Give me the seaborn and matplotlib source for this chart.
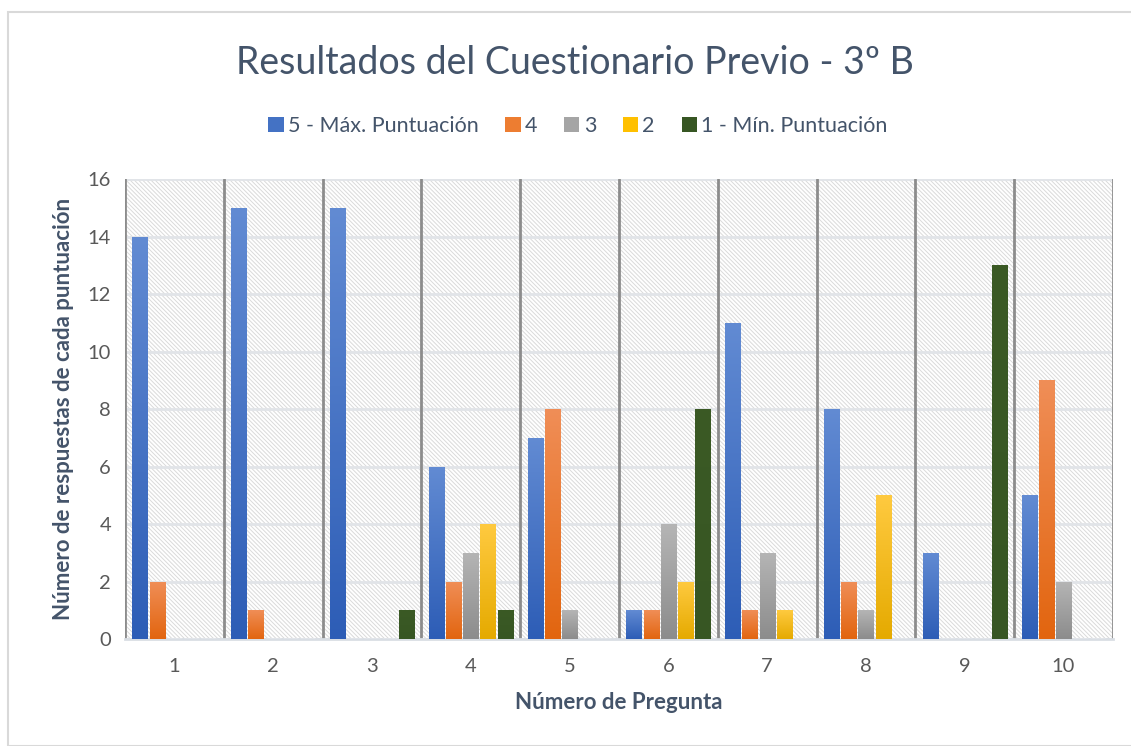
import numpy as np
import pandas as pd
import matplotlib
matplotlib.use("Agg")
import matplotlib.pyplot as plt
import matplotlib.colors as mcolors
from matplotlib.patches import Rectangle, Patch
import seaborn as sns

preguntas = ["1", "2", "3", "4", "5", "6", "7", "8", "9", "10"]
series = ["5 - Máx. Puntuación", "4", "3", "2", "1 - Mín. Puntuación"]
p5 = [14, 15, 15, 6, 7, 1, 11, 8, 3, 5]
p4 = [2, 1, 0, 2, 8, 1, 1, 2, 0, 9]
p3 = [0, 0, 0, 3, 1, 4, 3, 1, 0, 2]
p2 = [0, 0, 0, 4, 0, 2, 1, 5, 0, 0]
p1 = [0, 0, 1, 1, 0, 8, 0, 0, 13, 0]
yticks = [0, 2, 4, 6, 8, 10, 12, 14, 16]

colors = ["#4472C4", "#ED7D31", "#A5A5A5", "#FFC000", "#375623"]
grad_top = ["#628BD3", "#F08E57", "#B5B5B5", "#FFCA40", "#3B5A25"]
grad_bot = ["#2D5DB6", "#E2650F", "#8C8C8C", "#E5AA00", "#375623"]

rows = []
for s, vals in zip(series, [p5, p4, p3, p2, p1]):
    for q, v in zip(preguntas, vals):
        rows.append({"Pregunta": q, "Serie": s, "Valor": v})
df = pd.DataFrame(rows)

sns.set_theme(style="white")
plt.rcParams['font.family'] = ['Lato', 'DejaVu Sans']
plt.rcParams['hatch.linewidth'] = 0.7

fig = plt.figure(figsize=(11.31, 7.46), dpi=100)
ax = fig.add_axes([0.1105, 0.1434, 0.8735, 0.6166])

palette = dict(zip(series, colors))
sns.barplot(data=df, x="Pregunta", y="Valor", hue="Serie", hue_order=series,
            order=preguntas, palette=palette, width=0.87, gap=0.12,
            saturation=1, ax=ax, legend=True, zorder=3)

n = len(preguntas)
ax.set_xlim(-0.5, n - 0.5)
ax.set_ylim(yticks[0], yticks[-1])
bars = [p for p in ax.patches if isinstance(p, Rectangle)][: n * len(series)]
for i, p in enumerate(bars):
    si = i // n
    h = p.get_height()
    if h <= 0:
        continue
    cmap = mcolors.LinearSegmentedColormap.from_list("g", [grad_bot[si], grad_top[si]])
    grad = np.linspace(0, 1, 256).reshape(-1, 1)
    x0 = p.get_x(); w = p.get_width()
    im = ax.imshow(grad, cmap=cmap, origin="lower", aspect="auto",
                   extent=[x0, x0 + w, 0, h], zorder=3.5)
    im.set_clip_path(p)
    p.set_edgecolor("none")
ax.set_xlim(-0.5, n - 0.5)
ax.set_ylim(yticks[0], yticks[-1])

# hatched background
bg = Rectangle((0, 0), 1, 1, transform=ax.transAxes, facecolor="white",
               edgecolor="#DADADA", hatch="\\" * 8, linewidth=0, zorder=0.1)
ax.add_patch(bg)
ax.set_facecolor("white")

ax.set_yticks(yticks)
ax.yaxis.grid(True, color="#E1E4E8", linewidth=2)
ax.set_axisbelow(True)
for k in range(n + 1):
    ax.axvline(k - 0.5, color="#8C8C8C", linewidth=2, zorder=2)
for s in ["top", "right", "left"]:
    ax.spines[s].set_visible(False)
ax.spines["bottom"].set_color("#D9DEE4")
ax.spines["bottom"].set_linewidth(2)

ax.tick_params(axis="both", length=0, labelsize=14.5, labelcolor="#595959")
ax.tick_params(axis="x", pad=14)
ax.tick_params(axis="y", pad=10)
ax.set_xlabel("Número de Pregunta", fontsize=16, fontweight="bold", color="#44546A", labelpad=12)
ax.set_ylabel("Número de respuestas de cada puntuación", fontsize=16, fontweight="bold",
              color="#44546A", labelpad=10)

fig.text(0.508, 0.915, "Resultados del Cuestionario Previo - 3º B", ha="center", va="center",
         fontsize=27, color="#44546A", fontweight="normal")

ax.legend_.remove()
handles = [Patch(facecolor=c, edgecolor="none") for c in colors]
leg = fig.legend(handles, series, loc="center", bbox_to_anchor=(0.511, 0.831), ncol=5,
                 frameon=False, fontsize=15.5, handlelength=0.7, handleheight=0.7,
                 handletextpad=0.2, columnspacing=1.25)
for t in leg.get_texts():
    t.set_color("#44546A")

fig.patches.append(Rectangle((8 / 1131, 0), 1, 1 - 12 / 746, transform=fig.transFigure,
                             facecolor="none", edgecolor="#D9D9D9", linewidth=1.5))

fig.savefig("out.png", dpi=100, facecolor="white")
